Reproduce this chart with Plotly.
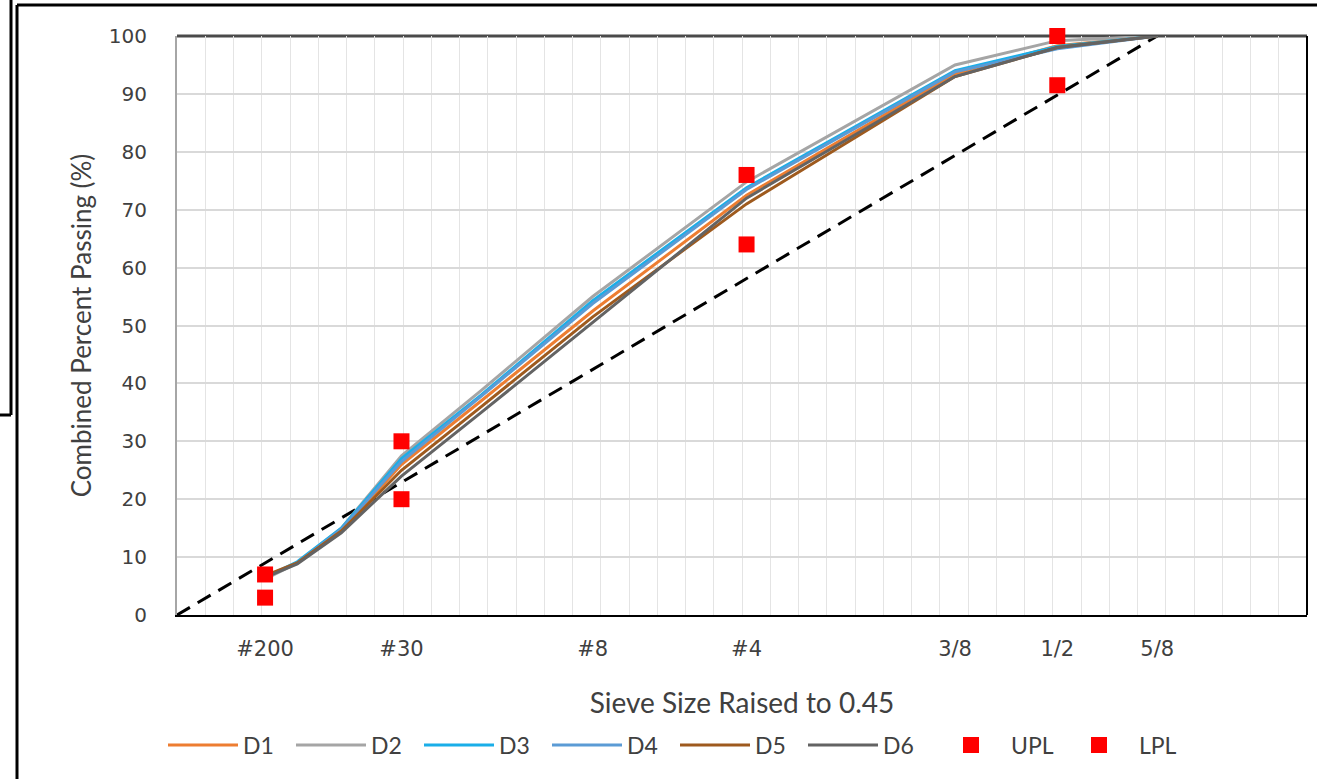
import plotly.graph_objects as go

# ---- data ----
sieve_labels = ["#200", "#100", "#50", "#30", "#16", "#8", "#4", "3/8", "1/2", "5/8"]
sieve_mm = [0.075, 0.15, 0.3, 0.6, 1.18, 2.36, 4.75, 9.5, 12.5, 15.875]

tick_labels = ["#200", "#30", "#8", "#4", "3/8", "1/2", "5/8"]

D1 = [6.5, 9.0, 14.5, 26.0, 37.0, 52.5, 72.5, 93.5, 98.3, 100]
D2 = [6.2, 9.0, 15.0, 27.5, 38.8, 55.0, 74.8, 95.0, 99.2, 100]
D3 = [6.5, 9.2, 15.0, 27.0, 38.0, 54.3, 73.8, 94.0, 98.2, 100]
D4 = [6.5, 9.0, 14.8, 26.5, 37.8, 53.8, 73.5, 93.8, 97.8, 100]
D5 = [6.8, 9.0, 14.5, 25.0, 36.0, 51.5, 71.0, 93.0, 98.0, 100]
D6 = [6.5, 8.8, 14.2, 24.0, 35.0, 50.5, 72.0, 93.0, 98.0, 100]

ctrl_sieves = ["#200", "#30", "#4", "1/2"]
UPL = [7, 30, 76, 100]
LPL = [3, 20, 64, 91.5]

mdl_sieves_mm = [0.0, 15.875]
mdl_values = [0, 100]

# ---- helpers ----
mm = dict(zip(sieve_labels, sieve_mm))
def p45(v):
    return v ** 0.45

x_all = [p45(v) for v in sieve_mm]
x_ctrl = [p45(mm[s]) for s in ctrl_sieves]
x_ticks = [p45(mm[s]) for s in tick_labels]
x_mdl = [p45(v) for v in mdl_sieves_mm]

series = [
    ("D1", D1, "#ED7D31"),
    ("D2", D2, "#A5A5A5"),
    ("D3", D3, "#1AAEE8"),
    ("D4", D4, "#5B9BD5"),
    ("D5", D5, "#9E5A1E"),
    ("D6", D6, "#636363"),
]

fig = go.Figure()

fig.add_trace(go.Scatter(x=x_mdl, y=mdl_values, mode="lines", showlegend=False,
                         line=dict(color="black", width=3, dash="15px,9px"),
                         hoverinfo="skip"))

for name, vals, col in series:
    fig.add_trace(go.Scatter(x=x_all, y=vals, mode="lines", name=name,
                             line=dict(color=col, width=3)))

fig.add_trace(go.Scatter(x=x_ctrl, y=UPL, mode="markers", name="UPL", cliponaxis=False,
                         marker=dict(symbol="square", size=16, color="#FF0000")))
fig.add_trace(go.Scatter(x=x_ctrl, y=LPL, mode="markers", name="LPL", cliponaxis=False,
                         marker=dict(symbol="square", size=16, color="#FF0000")))

L, R, T, B = 177, 10, 36, 164
W, H = 1317, 779
pw, ph = W - L - R, H - T - B
def px(xp):
    return (xp - L) / pw
def py(yp):
    return (H - B - yp) / ph

shapes = [
    # plot frame: top (dark gray) and right (black)
    dict(type="line", xref="paper", yref="paper", x0=0, x1=1, y0=1, y1=1,
         line=dict(color="#4a4a4a", width=3), layer="below"),
    dict(type="line", xref="paper", yref="paper", x0=1, x1=1, y0=0, y1=1,
         line=dict(color="black", width=2)),
    # outer image frames
    dict(type="line", xref="paper", yref="paper", x0=px(17), x1=px(W + 2), y0=py(5), y1=py(5),
         line=dict(color="black", width=3)),
    dict(type="line", xref="paper", yref="paper", x0=px(17), x1=px(17), y0=py(5), y1=py(H + 2),
         line=dict(color="black", width=3)),
    dict(type="line", xref="paper", yref="paper", x0=px(11), x1=px(11), y0=py(-2), y1=py(415),
         line=dict(color="black", width=3)),
    dict(type="line", xref="paper", yref="paper", x0=px(-2), x1=px(11), y0=py(415), y1=py(415),
         line=dict(color="black", width=3)),
]

fig.update_layout(
    width=W, height=H,
    margin=dict(l=L, r=R, t=T, b=B, autoexpand=False),
    paper_bgcolor="white", plot_bgcolor="white",
    font=dict(family="Lato", color="#404040"),
    shapes=shapes,
    showlegend=True,
    legend=dict(orientation="h", x=px(163), y=py(745), xanchor="left", yanchor="middle",
                font=dict(family="Lato", size=23, color="#404040"),
                itemwidth=70, entrywidth=43, bgcolor="rgba(0,0,0,0)"),
    xaxis=dict(range=[0, 4], tickmode="array", tickvals=x_ticks, ticktext=tick_labels,
               showgrid=False, zeroline=False, showline=True, linecolor="black", linewidth=2,
               ticks="", ticklabelstandoff=14,
               tickfont=dict(family="DejaVu Sans", size=21, color="#404040"),
               minor=dict(tickmode="linear", tick0=0, dtick=0.1, showgrid=True,
                          gridcolor="#e4e4e4", gridwidth=1, ticks=""),
               title=dict(text="Sieve Size Raised to 0.45", standoff=33,
                          font=dict(family="Lato", size=28, color="#404040"))),
    yaxis=dict(range=[0, 100], dtick=10, showgrid=True, gridcolor="#d9d9d9", gridwidth=1.5,
               zeroline=False, showline=True, linecolor="#a6a6a6", linewidth=2,
               ticks="", ticklabelstandoff=24,
               tickfont=dict(family="DejaVu Sans", size=20, color="#404040"),
               title=dict(text="Combined Percent Passing (%)", standoff=10,
                          font=dict(family="Lato", size=26, color="#404040"))),
)

fig.write_html("out.html")
